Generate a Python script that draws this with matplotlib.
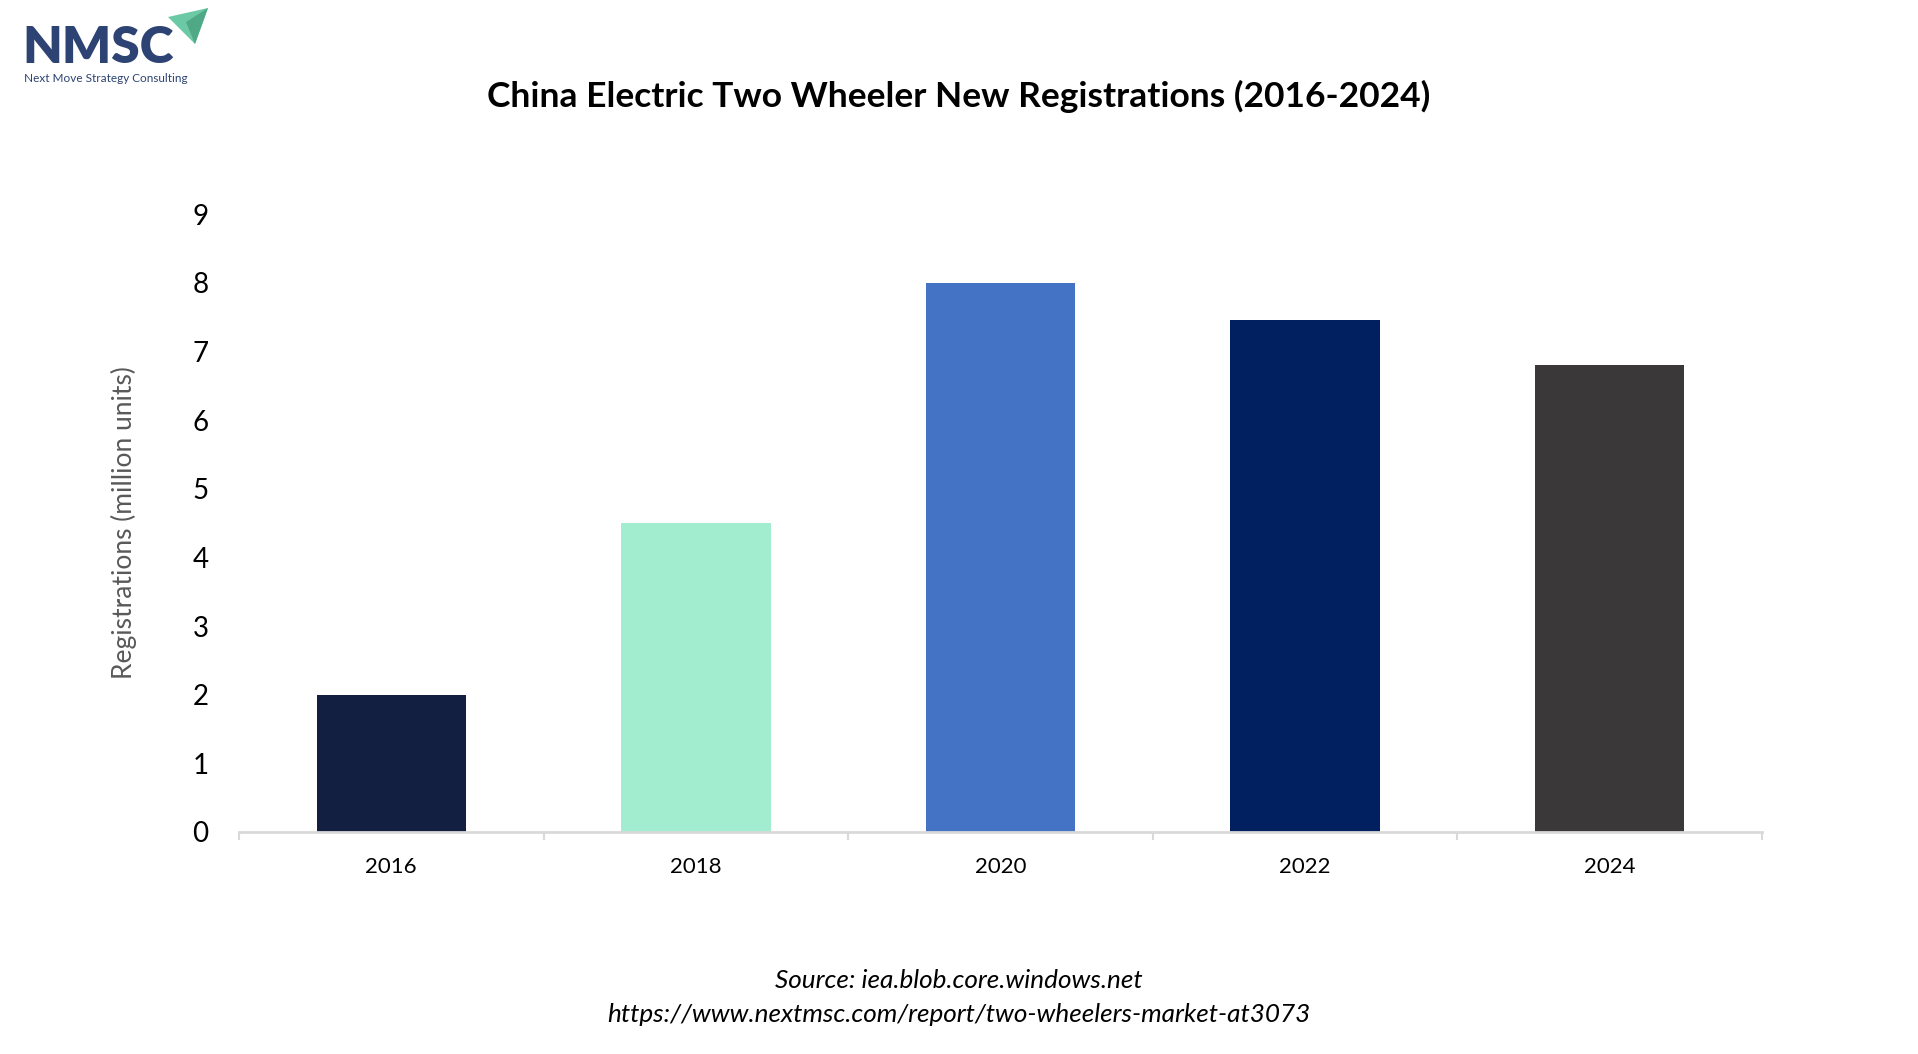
import matplotlib
matplotlib.use("Agg")
import matplotlib.pyplot as plt
from matplotlib.patches import Polygon
import numpy as np

years = ["2016", "2018", "2020", "2022", "2024"]
registrations = [2.0, 4.5, 8.0, 7.45, 6.8]
bar_colors = ["#121f40", "#a2ecd0", "#4472c4", "#002060", "#3a3838"]
y_ticks = list(range(0, 10))

FONT = "Lato"

fig = plt.figure(figsize=(19.18, 10.54), dpi=100)
fig.patch.set_facecolor("white")
ax = fig.add_axes([239/1918, 1-832/1054, 1523/1918, (832-214)/1054])

x = np.arange(len(years))
ax.bar(x, registrations, width=0.49, color=bar_colors, zorder=2)

ax.set_xlim(-0.5, len(years) - 0.5)
ax.set_ylim(0, 9)
ax.set_yticks(y_ticks)
ax.set_yticklabels([str(t) for t in y_ticks], fontsize=20, fontfamily=FONT, color="#000000")
ax.set_xticks(x)
ax.set_xticklabels(years, fontsize=16, fontfamily=FONT, color="#000000")
ax.set_xticks(np.arange(-0.5, len(years), 1.0), minor=True)
ax.tick_params(axis="x", which="major", length=0, pad=18)
ax.tick_params(axis="x", which="minor", length=6, width=1.5, color="#d9d9d9", direction="out")
ax.tick_params(axis="y", length=0, pad=22)

for s in ["top", "right", "left"]:
    ax.spines[s].set_visible(False)
ax.spines["bottom"].set_color("#d9d9d9")
ax.spines["bottom"].set_linewidth(2)

ax.set_ylabel("Registrations (million units)", fontsize=19, fontfamily=FONT,
              color="#595959", labelpad=40)

fig.text(959/1918, 1-96/1054, "China Electric Two Wheeler New Registrations (2016-2024)",
         ha="center", va="center", fontsize=25.5, fontweight="bold", fontfamily=FONT, color="#000000")

fig.text(959/1918, 1-981/1054, "Source: iea.blob.core.windows.net", ha="center", va="center",
         fontsize=18.8, fontstyle="italic", fontfamily=FONT, color="#000000")
fig.text(959/1918, 1-1014/1054, "https://www.nextmsc.com/report/two-wheelers-market-at3073",
         ha="center", va="center", fontsize=18.8, fontstyle="italic", fontfamily=FONT, color="#000000")

# Logo
fig.text(22/1918, 1-48/1054, "NMSC", ha="left", va="center", fontsize=37, fontweight="heavy",
         fontfamily=FONT, color="#2d4373")
fig.text(24/1918, 1-78/1054, "Next Move Strategy Consulting", ha="left", va="center",
         fontsize=8.5, fontfamily=FONT, color="#2d4373")
tri = Polygon([[168/1918, 1-17/1054], [208/1918, 1-8/1054], [195/1918, 1-44/1054]],
              closed=True, transform=fig.transFigure, facecolor="#6cc9a6", edgecolor="none")
fig.patches.append(tri)
tri2 = Polygon([[186/1918, 1-22/1054], [208/1918, 1-8/1054], [195/1918, 1-44/1054]],
               closed=True, transform=fig.transFigure, facecolor="#4fa886", edgecolor="none")
fig.patches.append(tri2)

fig.savefig("out.png", dpi=100, facecolor="white")
